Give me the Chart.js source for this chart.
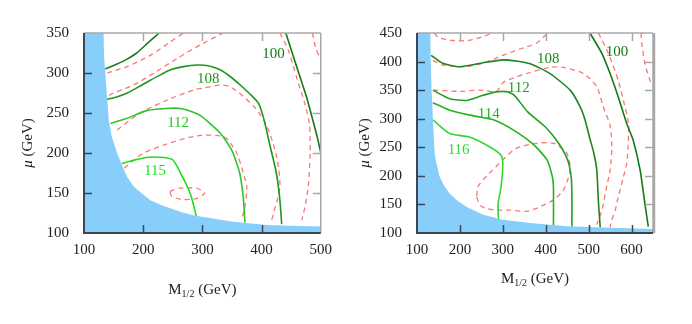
<!DOCTYPE html>
<html>
<head>
<meta charset="utf-8">
<script src="https://cdn.jsdelivr.net/npm/chart.js@4.4.1/dist/chart.umd.min.js"></script>
<style>
  html, body { margin: 0; padding: 0; background: #fff; }
  #wrap { position: relative; width: 692px; height: 324px; overflow: hidden; }
  canvas { position: absolute; top: 0; }
  #left  { left: 0; }
  #right { left: 340px; }
</style>
</head>
<body>
<div id="wrap">
  <canvas id="left" width="340" height="324"></canvas>
  <canvas id="right" width="352" height="324"></canvas>
</div>
<script>
/* ---- data: [M1/2, mu] points (GeV) ---- */

// left panel axes
const leftXTicks = [100, 200, 300, 400, 500];
const leftYTicks = [100, 150, 200, 250, 300, 350];

// excluded region (filled down to the bottom axis)
const leftBlue = [[100,350],[133,350],[134,320],[136,300],[138,280],[140,260],[142,240],[147,220],
  [156,200],[164,185],[173,170],[182,160],[190,154],[200,148],[212,141],[230,135],[246,131],
  [265,126],[286,122],[310,119],[352,114],[409,110],[450,109],[500,108]];

// solid contours
const leftG104 = [[136,305],[155,311],[172,317],[189,325],[207,337],[227,350]];
const leftG108 = [[139,267],[155,270],[173,275],[193,283],[212,291],[230,298],[246,304],[268,308],
  [291,310],[310,309],[330,304],[348,295],[364,285],[380,274],[395,262],[404,242],[414,210],
  [425,175],[431,141],[434,111]];
const leftG112 = [[145,237],[172,243],[206,253],[245,256],[268,255],[296,247],[330,225],[350,203],
  [363,175],[369,145],[372,113]];
const leftG115 = [[164,187],[190,192],[212,195],[249,192],[263,175],[277,154],[283,141],[290,120]];
const leftG100 = [[441,350],[454,320],[465,295],[476,270],[487,240],[494,220],[500,201]];

// dashed contours
const leftD1 = [[139,300],[173,308],[212,322],[246,339],[268,350]];
const leftD2 = [[142,272],[150,275],[184,285],[218,300],[257,318],[296,335],[335,350]];
const leftD3 = [[156,229],[195,250],[240,266],[286,279],[301,281],[330,285],[346,283],[369,271],
  [392,254],[406,238],[416,220],[424,200],[429,180],[431,158],[426,140],[417,116]];
const leftD4 = [[168,181],[184,191],[201,200],[239,211],[270,218],[297,222],[324,222],[341,218],
  [358,200],[369,175],[375,158],[372,133],[366,116]];
const leftD5 = [[245,152],[262,156],[290,156],[304,150],[290,143],[265,142],[248,146],[245,152]];
const leftD6 = [[431,350],[445,329],[459,295],[473,262],[481,235],[482,200],[479,158],[474,135],[468,116]];
const leftD7 = [[486,350],[492,330],[500,318]];

const leftLabels = [['100',420,324],['108',310,292],['112',259,238],['115',220,177]];

// right panel axes
const rightXTicks = [100, 200, 300, 400, 500, 600];
const rightXMax = 650;
const rightYTicks = [100, 150, 200, 250, 300, 350, 400, 450];

const rightBlue = [[100,450],[131,450],[132,400],[134,350],[136,320],[137,298],[139,270],[141,240],
  [146,220],[153,198],[164,182],[176,169],[195,156],[215,146],[254,132],[300,123],[370,117],
  [450,112],[550,109],[650,107]];

const rightG108 = [[133,411],[160,397],[199,391],[254,398],[300,403],[331,401],[364,396],[410,379],
  [457,350],[480,321],[492,297],[503,265],[512,240],[519,210],[523,152],[527,110]];
const rightG112 = [[137,350],[176,335],[215,332],[254,341],[285,347],[312,347],[328,340],[358,312],
  [400,285],[430,257],[451,228],[459,200],[461,170],[461,111]];
const rightG114 = [[137,328],[176,315],[232,305],[278,298],[325,280],[371,255],[403,228],[415,200],
  [418,181],[418,111]];
const rightG116 = [[137,298],[176,274],[222,268],[269,251],[296,236],[300,222],[296,181],[289,152],[290,123]];
const rightG100 = [[503,450],[531,414],[550,379],[569,338],[589,291],[604,262],[620,210],[631,152],[639,111]];

const rightD1 = [[140,450],[150,442],[180,437],[220,437],[255,444],[275,450]];
const rightD2 = [[137,402],[160,394],[215,391],[261,399],[300,411],[340,422],[378,432],[395,443],[405,450]];
const rightD3 = [[138,350],[200,348],[247,350],[285,348],[302,364],[331,373],[360,380],[410,390],
  [441,390],[488,379],[519,356],[534,321],[550,288],[554,250],[550,210],[542,181],[531,140],[519,115]];
const rightD4 = [[239,163],[248,148],[261,143],[286,140],[316,140],[356,138],[387,146],[418,158],
  [441,175],[457,210],[449,240],[418,257],[378,257],[331,248],[300,228],[263,200],[242,181],[239,163]];
const rightD5 = [[523,450],[546,414],[569,367],[581,332],[593,292],[592,255],[589,222],[581,198],
  [569,163],[562,140],[554,123],[550,110]];
const rightD6 = [[622,450],[624,431],[631,397],[643,367],[650,355]];

const rightLabels = [['100',566,417],['108',406,405],['112',337,353],['114',267,309],['116',197,245]];

/* ---- styling ---- */
const SERIF = '"Liberation Serif", "DejaVu Serif", serif';
const BLUE = '#87cefa';
const RED = 'rgba(255,92,92,0.85)';
const DARK = '#3c4650';
const LIGHT = '#a8a8a8';

const pts = arr => arr.map(p => ({ x: p[0], y: p[1] }));

function solid(arr, color){
  return { data: pts(arr), showLine: true, borderColor: color, borderWidth: 1.6,
           pointRadius: 0, tension: 0.2, fill: false };
}
function dashed(arr){
  return { data: pts(arr), showLine: true, borderColor: RED, borderWidth: 1.3,
           borderDash: [5, 4], pointRadius: 0, tension: 0.25, fill: false };
}
function excluded(arr){
  return { data: pts(arr), showLine: true, borderWidth: 0, borderColor: BLUE,
           backgroundColor: BLUE, pointRadius: 0, tension: 0, fill: 'start', order: -1 };
}

/* frame, inward ticks, contour labels and axis titles */
const framePlugin = {
  id: 'frame',
  afterDatasetsDraw(chart, args, o){
    const { ctx, chartArea: a, scales: { x, y } } = chart;
    ctx.save();
    ctx.textAlign = 'center';
    ctx.textBaseline = 'middle';
    ctx.font = '15px ' + SERIF;
    o.labels.forEach(l => {
      ctx.fillStyle = o.labelColors[l[0]];
      ctx.fillText(l[0], x.getPixelForValue(l[1]), y.getPixelForValue(l[2]));
    });

    const tl = 8;
    ctx.lineWidth = 1.5;
    o.xTicks.forEach(v => {
      if (v <= x.min || v >= x.max) return;
      const px = Math.round(x.getPixelForValue(v)) + 0.5;
      ctx.strokeStyle = DARK;
      ctx.beginPath(); ctx.moveTo(px, a.bottom); ctx.lineTo(px, a.bottom - tl); ctx.stroke();
      ctx.strokeStyle = LIGHT;
      ctx.beginPath(); ctx.moveTo(px, a.top); ctx.lineTo(px, a.top + tl); ctx.stroke();
    });
    o.yTicks.forEach(v => {
      if (v <= y.min || v >= y.max) return;
      const py = Math.round(y.getPixelForValue(v)) + 0.5;
      ctx.strokeStyle = DARK;
      ctx.beginPath(); ctx.moveTo(a.left, py); ctx.lineTo(a.left + tl, py); ctx.stroke();
      ctx.strokeStyle = LIGHT;
      ctx.beginPath(); ctx.moveTo(a.right, py); ctx.lineTo(a.right - tl, py); ctx.stroke();
    });

    ctx.strokeStyle = LIGHT;
    ctx.lineWidth = 1.5;
    ctx.beginPath(); ctx.moveTo(a.left, a.top); ctx.lineTo(a.right, a.top); ctx.stroke();
    ctx.lineWidth = o.rightEdge;
    ctx.beginPath(); ctx.moveTo(a.right + o.rightEdge / 2 - 0.75, a.top); ctx.lineTo(a.right + o.rightEdge / 2 - 0.75, a.bottom); ctx.stroke();
    ctx.lineWidth = 2;
    ctx.strokeStyle = DARK;
    ctx.beginPath(); ctx.moveTo(a.left, a.top); ctx.lineTo(a.left, a.bottom); ctx.lineTo(a.right, a.bottom); ctx.stroke();

    // x title: M_{1/2} (GeV)
    ctx.fillStyle = '#222';
    ctx.textAlign = 'left';
    ctx.textBaseline = 'alphabetic';
    const big = '15px ' + SERIF, small = '10px ' + SERIF;
    ctx.font = big; const wM = ctx.measureText('M').width, wG = ctx.measureText(' (GeV)').width;
    ctx.font = small; const wS = ctx.measureText('1/2').width;
    let sx = (a.left + a.right) / 2 - (wM + wS + wG) / 2;
    ctx.font = big; ctx.fillText('M', sx, o.xTitleY); sx += wM;
    ctx.font = small; ctx.fillText('1/2', sx, o.xTitleY + 3); sx += wS;
    ctx.font = big; ctx.fillText(' (GeV)', sx, o.xTitleY);

    // y title: mu (GeV)
    ctx.translate(o.yTitleX, (a.top + a.bottom) / 2 + 10);
    ctx.rotate(-Math.PI / 2);
    ctx.textBaseline = 'middle';
    ctx.font = 'italic 15px ' + SERIF;
    const wMu = ctx.measureText('\u03bc').width;
    ctx.font = big;
    const wRest = ctx.measureText(' (GeV)').width;
    ctx.textAlign = 'left';
    ctx.font = 'italic 15px ' + SERIF;
    ctx.fillText('\u03bc', -(wMu + wRest) / 2, 0);
    ctx.font = big;
    ctx.fillText(' (GeV)', -(wMu + wRest) / 2 + wMu, 0);
    ctx.restore();
  }
};

function axis(ticks, min, max, isX, size){
  return {
    type: 'linear', min, max,
    afterBuildTicks: s => { s.ticks = ticks.map(v => ({ value: v })); },
    afterFit: s => { if (isX) s.height = size; else s.width = size; },
    grid: { display: false, drawTicks: false },
    border: { display: false },
    ticks: { padding: isX ? 8 : 15, color: '#222', font: { family: SERIF, size: 15 } }
  };
}

function panel(id, datasets, o){
  return new Chart(document.getElementById(id), {
    type: 'scatter',
    data: { datasets },
    options: {
      responsive: false, animation: false, devicePixelRatio: 1,
      layout: { padding: { left: 0, top: 33, right: o.padRight, bottom: 31 } },
      plugins: { legend: { display: false }, tooltip: { enabled: false }, frame: o.frame },
      scales: {
        x: axis(o.xTicks, o.xMin, o.xMax, true, 60),
        y: axis(o.yTicks, o.yMin, o.yMax, false, o.yWidth)
      }
    },
    plugins: [framePlugin]
  });
}

const leftColors = { '100': '#127a12', '108': '#1e961e', '112': '#2cc42c', '115': '#1ede1e' };
panel('left', [
  solid(leftG104, '#1f7a1f'), solid(leftG108, leftColors['108']), solid(leftG112, leftColors['112']),
  solid(leftG115, leftColors['115']), solid(leftG100, leftColors['100']),
  dashed(leftD1), dashed(leftD2), dashed(leftD3), dashed(leftD4), dashed(leftD5), dashed(leftD6), dashed(leftD7),
  excluded(leftBlue)
], {
  xTicks: leftXTicks, xMin: leftXTicks[0], xMax: leftXTicks[leftXTicks.length - 1],
  yTicks: leftYTicks, yMin: leftYTicks[0], yMax: leftYTicks[leftYTicks.length - 1],
  yWidth: 84, padRight: 19,
  frame: { labels: leftLabels, labelColors: leftColors, xTicks: leftXTicks, yTicks: leftYTicks,
           xTitleY: 294, yTitleX: 28, rightEdge: 1.5 }
});

const rightColors = { '100': '#127a12', '108': '#1d851d', '112': '#22a022', '114': '#1fb51f', '116': '#33d633' };
panel('right', [
  solid(rightG108, rightColors['108']), solid(rightG112, rightColors['112']), solid(rightG114, rightColors['114']),
  solid(rightG116, rightColors['116']), solid(rightG100, rightColors['100']),
  dashed(rightD1), dashed(rightD2), dashed(rightD3), dashed(rightD4), dashed(rightD5), dashed(rightD6),
  excluded(rightBlue)
], {
  xTicks: rightXTicks, xMin: rightXTicks[0], xMax: rightXMax,
  yTicks: rightYTicks, yMin: rightYTicks[0], yMax: rightYTicks[rightYTicks.length - 1],
  yWidth: 77, padRight: 39,
  frame: { labels: rightLabels, labelColors: rightColors, xTicks: rightXTicks, yTicks: rightYTicks,
           xTitleY: 283, yTitleX: 25, rightEdge: 3 }
});
</script>
</body>
</html>
